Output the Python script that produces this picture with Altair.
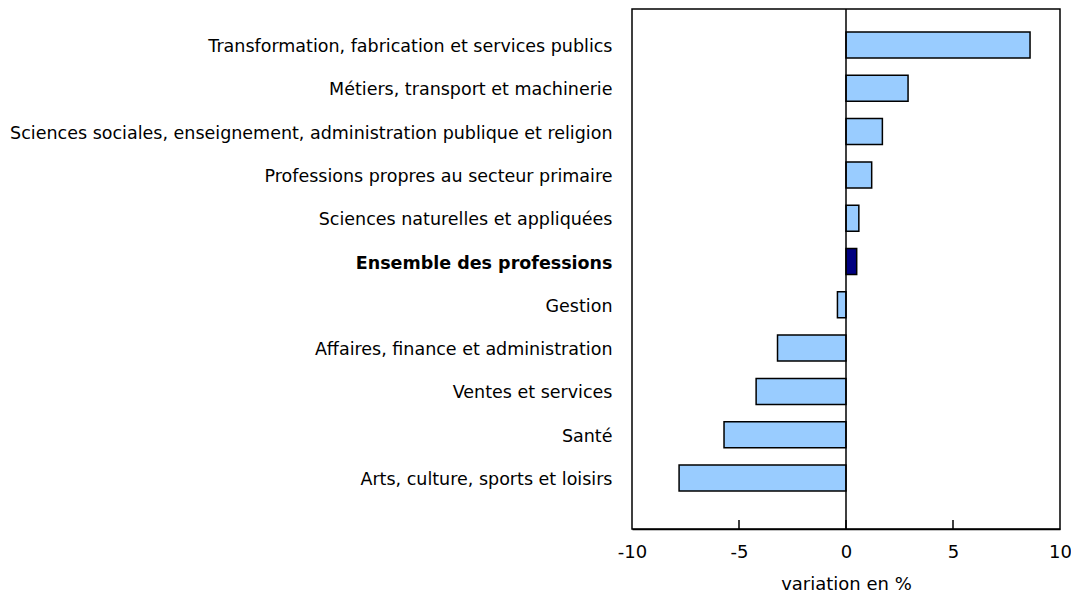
import altair as alt
import pandas as pd

categories = [
    "Transformation, fabrication et services publics",
    "Métiers, transport et machinerie",
    "Sciences sociales, enseignement, administration publique et religion",
    "Professions propres au secteur primaire",
    "Sciences naturelles et appliquées",
    "Ensemble des professions",
    "Gestion",
    "Affaires, finance et administration",
    "Ventes et services",
    "Santé",
    "Arts, culture, sports et loisirs",
]
values = [8.6, 2.9, 1.7, 1.2, 0.6, 0.5, -0.4, -3.2, -4.2, -5.7, -7.8]
groups = ["occ", "occ", "occ", "occ", "occ", "total", "occ", "occ", "occ", "occ", "occ"]
tick_values = [-5, 0, 5]
axis_values = [-10, -5, 0, 5, 10]

df = pd.DataFrame({"cat": categories, "val": values, "grp": groups})
ticks = pd.DataFrame({"t": tick_values})

W, H = 428, 520
FONT = "DejaVu Sans"

x_scale = alt.Scale(domain=[-10, 10], nice=False)
y_scale = alt.Scale(domain=categories, range=[23, 482], paddingInner=0.4, paddingOuter=0)

bars = alt.Chart(df).mark_bar(stroke="black", strokeWidth=1.5).encode(
    x=alt.X("val:Q", scale=x_scale,
            axis=alt.Axis(values=axis_values, ticks=False, grid=False, labelFlush=False,
                          labelExpr="'' + datum.value",
                          title="variation en %", titleFontWeight="normal",
                          titleFontSize=18, titlePadding=14, labelFontSize=18,
                          labelPadding=14, domainColor="black", domainWidth=1.5,
                          labelColor="black", titleColor="black", labelFont=FONT,
                          titleFont=FONT)),
    x2=alt.datum(0),
    y=alt.Y("cat:N", scale=y_scale, sort=None,
            axis=alt.Axis(title=None, ticks=False, domain=False, labelFontSize=17.5,
                          labelPadding=20, labelLimit=700, labelColor="black",
                          labelFont=FONT, labelOffset=2,
                          labelFontWeight=alt.ExprRef("datum.value == 'Ensemble des professions' ? 'bold' : 'normal'"))),
    color=alt.Color("grp:N", scale=alt.Scale(domain=["occ", "total"], range=["#99ccff", "#000080"]), legend=None),
)

zero = alt.Chart(pd.DataFrame({"z": [0]})).mark_rule(color="black", strokeWidth=1.5).encode(
    x=alt.X("z:Q", scale=x_scale),
    y=alt.value(0), y2=alt.value(H),
)

tickmarks = alt.Chart(ticks).mark_rule(color="black", strokeWidth=1.5).encode(
    x=alt.X("t:Q", scale=x_scale),
    y=alt.value(H), y2=alt.value(H - 9),
)

chart = alt.layer(bars, zero, tickmarks).properties(
    width=W, height=H,
    autosize=alt.AutoSizeParams(type="none"),
    padding={"left": 624, "top": 1, "right": 11, "bottom": 65},
).configure_view(stroke="black", strokeWidth=1.5)

chart.save("out.html", embed_options={"renderer": "svg", "actions": False})
